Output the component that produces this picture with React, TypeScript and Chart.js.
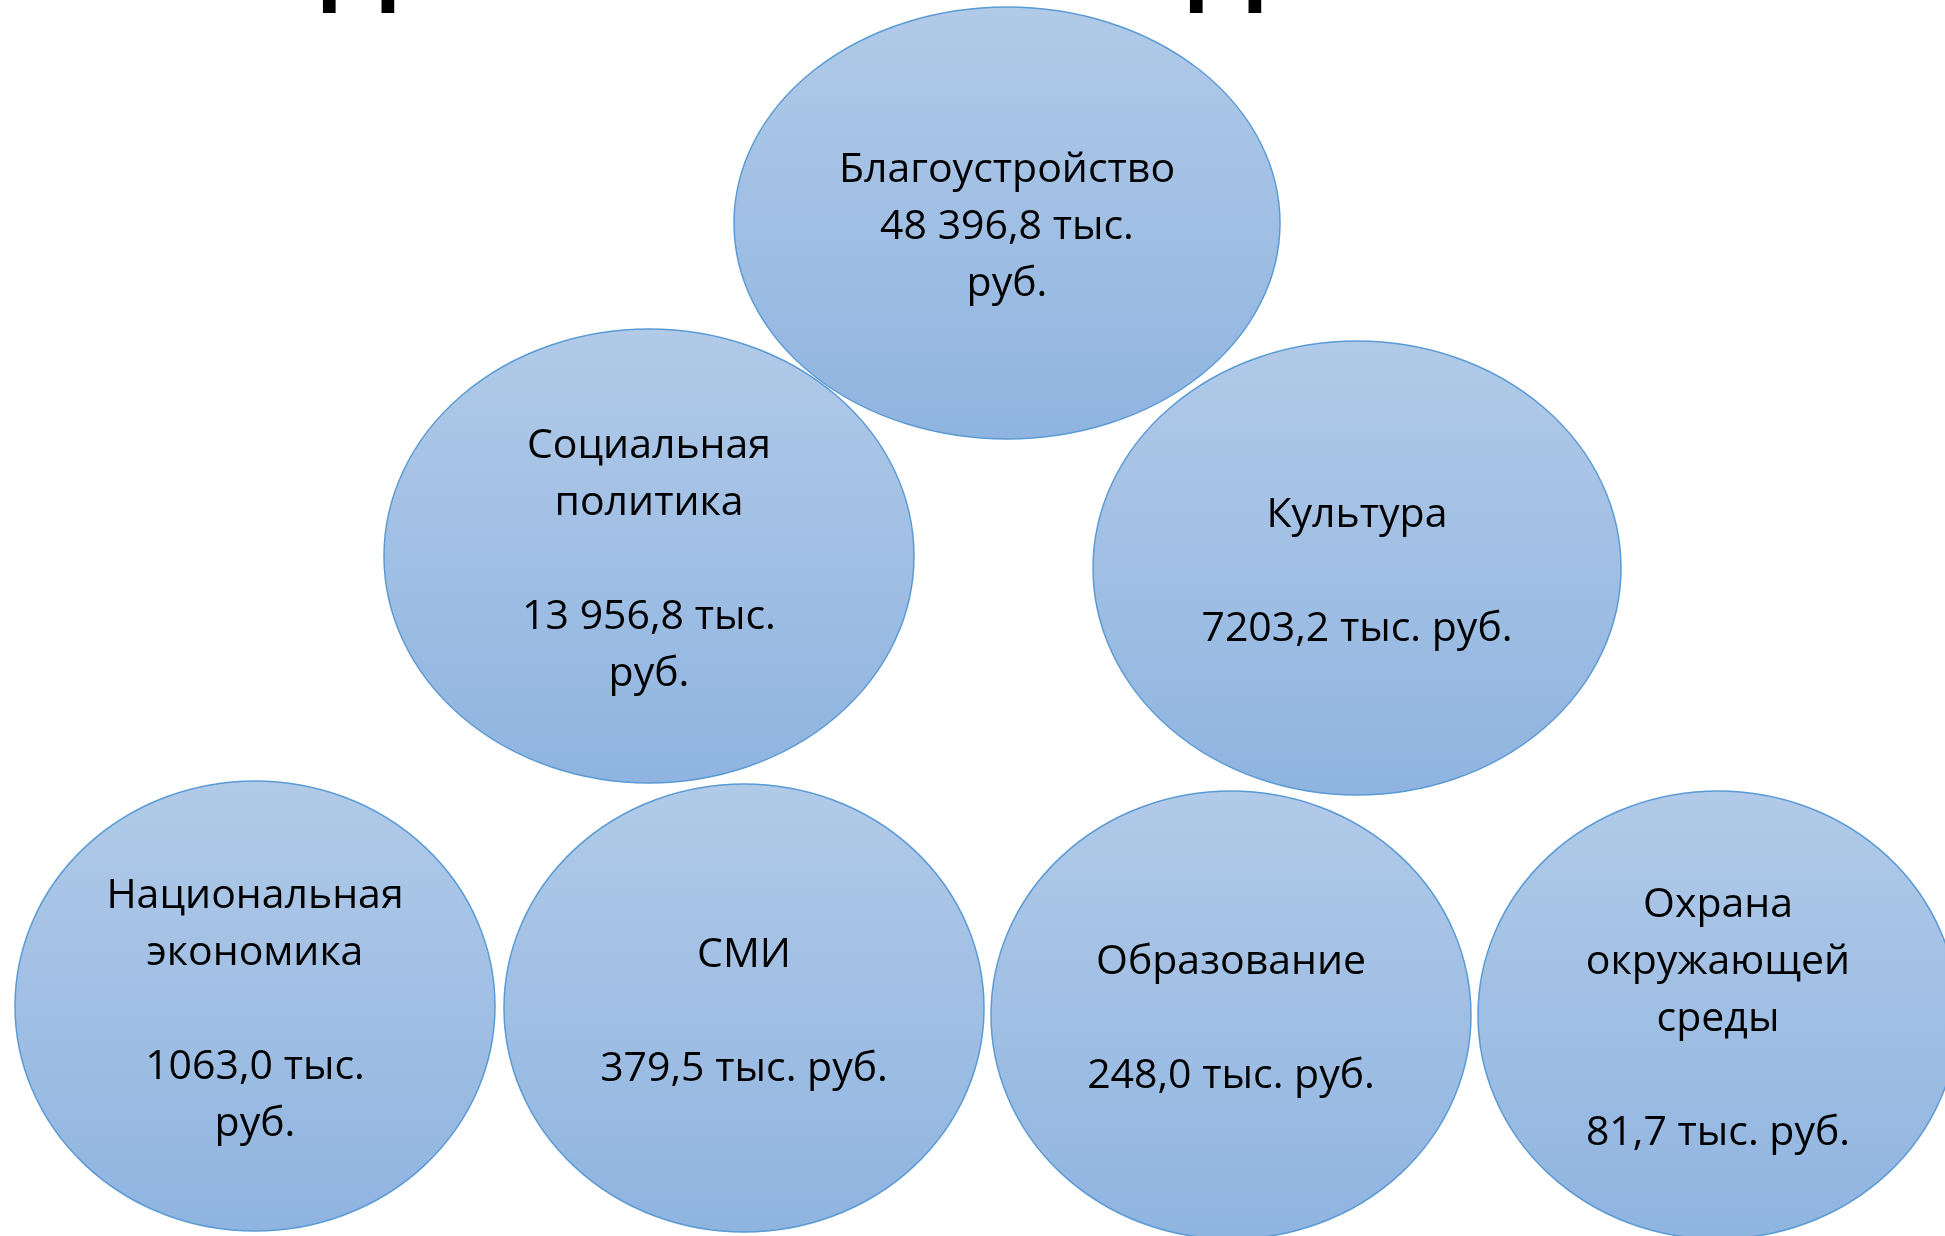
import React, { useEffect, useRef } from "react";
import { Chart, registerables } from "chart.js";

Chart.register(...registerables);

// Budget sections (categories) and their amounts, thousand roubles
const categories = [
  "Благоустройство",
  "Социальная политика",
  "Культура",
  "Национальная экономика",
  "СМИ",
  "Образование",
  "Охрана окружающей среды",
];
const amounts = [48396.8, 13956.8, 7203.2, 1063.0, 379.5, 248.0, 81.7];

// Text lines shown inside each bubble
const bubbleLines = [
  ["Благоустройство", "48 396,8 тыс.", "руб."],
  ["Социальная", "политика", "", "13 956,8 тыс.", "руб."],
  ["Культура", "", "7203,2 тыс. руб."],
  ["Национальная", "экономика", "", "1063,0 тыс.", "руб."],
  ["СМИ", "", "379,5 тыс. руб."],
  ["Образование", "", "248,0 тыс. руб."],
  ["Охрана", "окружающей", "среды", "", "81,7 тыс. руб."],
];

// Cut-off heading glyphs visible at the very top
const headingGlyphs = ["Д", "Д"];
const headingX = [359, 1226];

// Bubble layout in diagram units (x: 0..1945, y: 0..1236 from top)
const layoutX = [1007, 649, 1357, 255, 744, 1231, 1718];
const layoutY = [223, 556, 568, 1006, 1008, 1015, 1015];
const radiusX = [273, 265, 264, 240, 240, 240, 240];
const radiusY = [216, 227, 227, 225, 224, 224, 224];

const FONT = "'Open Sans', 'Noto Sans', sans-serif";

const ellipsePlugin = {
  id: "ellipseBubbles",
  afterDatasetsDraw(chart: any) {
    const ctx = chart.ctx;
    const xs = chart.scales.x;
    const ys = chart.scales.y;
    ctx.save();
    // draw heading fragments (mostly off-canvas)
    ctx.fillStyle = "#000";
    ctx.font = `bold 104px 'Liberation Sans', Arial, sans-serif`;
    ctx.textAlign = "center";
    ctx.textBaseline = "alphabetic";
    headingGlyphs.forEach((g, i) => {
      ctx.fillText(g, xs.getPixelForValue(headingX[i]), ys.getPixelForValue(-8));
    });

    const order = [6, 5, 4, 3, 2, 1, 0];
    order.forEach((i) => {
      const cx = xs.getPixelForValue(layoutX[i]);
      const cy = ys.getPixelForValue(layoutY[i]);
      const rx = Math.abs(xs.getPixelForValue(layoutX[i] + radiusX[i]) - cx);
      const ry = Math.abs(ys.getPixelForValue(layoutY[i] + radiusY[i]) - cy);
      const grad = ctx.createLinearGradient(0, cy - ry, 0, cy + ry);
      grad.addColorStop(0, "rgb(177,202,232)");
      grad.addColorStop(1, "rgb(143,180,224)");
      ctx.beginPath();
      ctx.ellipse(cx, cy, rx, ry, 0, 0, Math.PI * 2);
      ctx.fillStyle = grad;
      ctx.fill();
      ctx.lineWidth = 1.5;
      ctx.strokeStyle = "rgb(91,155,213)";
      ctx.stroke();

      const lines = bubbleLines[i];
      const lh = 57;
      ctx.fillStyle = "#000";
      ctx.font = `41px ${FONT}`;
      ctx.textAlign = "center";
      ctx.textBaseline = "middle";
      const start = cy + 4 - ((lines.length - 1) * lh) / 2;
      lines.forEach((t, k) => {
        if (t) ctx.fillText(t, cx, start + k * lh);
      });
    });
    ctx.restore();
  },
};

export default function App() {
  const ref = useRef<HTMLCanvasElement>(null);
  useEffect(() => {
    if (!ref.current) return;
    const chart = new Chart(ref.current, {
      type: "scatter",
      data: {
        datasets: [
          {
            label: "Расходы, тыс. руб.",
            data: categories.map((c, i) => ({ x: layoutX[i], y: layoutY[i], v: amounts[i] })),
            pointRadius: 0,
            pointHoverRadius: 0,
          },
        ],
      },
      options: {
        animation: false,
        responsive: true,
        maintainAspectRatio: false,
        devicePixelRatio: 1,
        layout: { padding: 0 },
        plugins: { legend: { display: false }, tooltip: { enabled: false }, title: { display: false } },
        events: [],
        scales: {
          x: { type: "linear", min: 0, max: 1945, display: false },
          y: { type: "linear", min: 0, max: 1236, reverse: true, display: false },
        },
      },
      plugins: [ellipsePlugin],
    });
    return () => chart.destroy();
  }, []);
  return (
    <div style={{ position: "fixed", left: 0, top: 0, width: 1945, height: 1236, background: "#fff" }}>
      <canvas ref={ref} />
    </div>
  );
}
